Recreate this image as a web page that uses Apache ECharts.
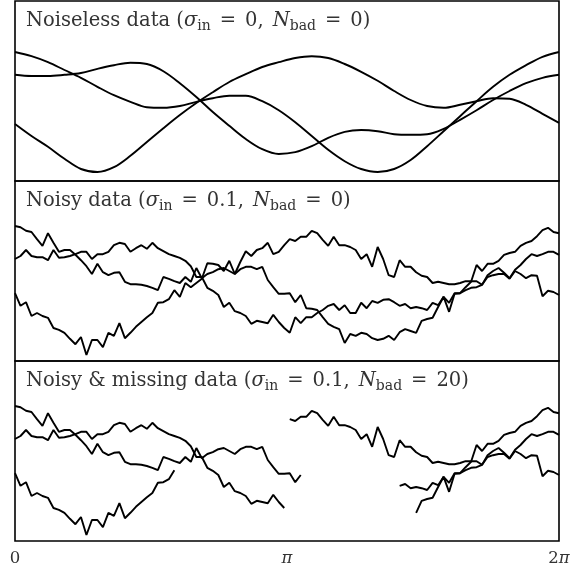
<!DOCTYPE html>
<html><head><meta charset="utf-8">
<script src="https://cdn.jsdelivr.net/npm/echarts@6/dist/echarts.min.js"></script>
<style>html,body{margin:0;padding:0;background:#fff}#c{width:578px;height:575px}</style>
</head><body><div id="c"></div><script>
// Panel captions: [prefix, sigma_in, N_bad]
const panelCaptions = [
  ['Noiseless data (', '0', '0'],
  ['Noisy data (', '0.1', '0'],
  ['Noisy & missing data (', '0.1', '20']
];
const xTickLabels = ['0', 'π', '2π'];
const nSamples = 100;
const noiselessStep = 3; // noiseless curves read every 3rd sample

const noiselessA = [0.95,0.88,0.78,0.65,0.52,0.37,0.23,0.12,0.03,0.02,0.05,0.12,0.18,0.22,0.22,0.13,-0.02,-0.22,-0.45,-0.68,-0.87,-1.00,-1.05,-1.00,-0.85,-0.62,-0.37,-0.12,0.13,0.37,0.57,0.73,0.87,0.95];
const noiselessB = [0.57,0.55,0.55,0.57,0.60,0.67,0.73,0.77,0.75,0.63,0.43,0.20,-0.05,-0.28,-0.50,-0.67,-0.75,-0.72,-0.62,-0.48,-0.38,-0.35,-0.37,-0.42,-0.43,-0.42,-0.33,-0.18,-0.02,0.15,0.30,0.43,0.52,0.57];
const noiselessC = [-0.25,-0.45,-0.63,-0.83,-1.00,-1.05,-0.97,-0.78,-0.55,-0.32,-0.10,0.10,0.28,0.45,0.58,0.70,0.78,0.85,0.88,0.85,0.75,0.62,0.47,0.30,0.15,0.05,0.02,0.07,0.13,0.18,0.17,0.07,-0.08,-0.23];

const noisyA = [1.05,1.03,0.97,0.95,0.83,0.72,0.93,0.77,0.62,0.65,
 0.65,0.57,0.48,0.38,0.25,0.42,0.28,0.23,0.27,0.28,
 0.12,0.08,0.08,0.07,0.05,0.02,-0.02,0.20,0.17,0.13,
 0.10,0.20,0.12,0.35,0.18,0.25,0.28,0.33,0.35,0.30,
 0.25,0.33,0.37,0.37,0.33,0.37,0.15,0.03,-0.08,-0.08,
 -0.07,-0.22,-0.10,-0.32,-0.33,-0.35,-0.47,-0.58,-0.63,-0.67,
 -0.90,-0.75,-0.78,-0.73,-0.75,-0.82,-0.85,-0.83,-0.78,-0.85,
 -0.72,-0.67,-0.70,-0.73,-0.53,-0.50,-0.48,-0.30,-0.13,-0.38,
 -0.08,-0.07,0.03,0.12,0.40,0.30,0.42,0.42,0.47,0.57,
 0.60,0.62,0.72,0.77,0.80,0.88,0.98,1.02,0.95,0.93];
const noisyB = [0.50,0.55,0.65,0.55,0.53,0.53,0.48,0.65,0.52,0.53,
 0.55,0.58,0.62,0.62,0.50,0.58,0.58,0.62,0.73,0.77,
 0.75,0.62,0.68,0.73,0.67,0.77,0.68,0.63,0.58,0.55,
 0.52,0.47,0.38,0.20,0.20,0.02,-0.03,-0.10,-0.30,-0.23,
 -0.37,-0.40,-0.45,-0.58,-0.53,-0.55,-0.57,-0.43,-0.55,-0.65,
 -0.73,-0.47,-0.57,-0.47,-0.47,-0.40,-0.35,-0.28,-0.25,-0.35,
 -0.27,-0.40,-0.40,-0.23,-0.32,-0.20,-0.23,-0.18,-0.17,-0.22,
 -0.28,-0.25,-0.32,-0.30,-0.32,-0.35,-0.23,-0.27,-0.13,-0.23,
 -0.07,-0.07,-0.02,0.02,0.03,0.07,0.23,0.30,0.35,0.27,
 0.18,0.32,0.40,0.50,0.58,0.55,0.58,0.62,0.62,0.57];
const noisyC = [-0.07,-0.28,-0.22,-0.45,-0.40,-0.45,-0.48,-0.65,-0.68,-0.73,
 -0.83,-0.92,-0.80,-1.10,-0.85,-0.85,-0.97,-0.73,-0.78,-0.57,
 -0.82,-0.73,-0.63,-0.55,-0.47,-0.40,-0.23,-0.22,-0.17,-0.02,
 -0.13,0.10,0.03,0.10,0.17,0.43,0.42,0.40,0.30,0.47,
 0.25,0.45,0.63,0.55,0.65,0.68,0.77,0.58,0.62,0.73,
 0.83,0.80,0.87,0.87,0.97,0.93,0.82,0.72,0.87,0.73,
 0.73,0.70,0.65,0.50,0.58,0.37,0.70,0.50,0.23,0.20,
 0.48,0.37,0.37,0.28,0.22,0.20,0.10,0.12,0.10,0.08,
 0.08,0.10,0.13,0.13,0.13,0.07,0.20,0.23,0.25,0.25,
 0.17,0.30,0.25,0.18,0.23,0.22,-0.12,-0.03,-0.05,-0.10];

// first missing sample index for curves A, B, C in the bottom panel
const missingStart = [53, 50, 30];
const missingCount = 20;

const TWO_PI = 2 * Math.PI;
const xAt = i => i * TWO_PI / (nSamples - 1);

const panelTop = [1, 181, 361];
const panelH = 180;
const serif = "'DejaVu Serif', 'Liberation Serif', serif";
const txtColor = '#333';

function caption(c) {
  return '{t|' + c[0] + '}{i|σ}{s|in}{e|=}{t|' + c[1] + ',}{n|N}{s|bad}{e|=}{t|' + c[2] + ')}';
}
const base = { fontFamily: serif, fontSize: 19.5, fontWeight: 'normal', color: txtColor, lineHeight: 24, verticalAlign: 'middle' };
const capRich = {
  t: Object.assign({}, base),
  i: Object.assign({}, base, { fontStyle: 'italic' }),
  n: Object.assign({}, base, { fontStyle: 'italic', padding: [0, 0, 0, 9] }),
  e: Object.assign({}, base, { padding: [0, 9, 0, 9] }),
  s: { fontFamily: serif, fontSize: 14, fontWeight: 'normal', color: txtColor, lineHeight: 13, verticalAlign: 'bottom' }
};

const grids = [], xAxes = [], yAxes = [], titles = [];
for (let p = 0; p < 3; p++) {
  grids.push({ left: 15, width: 544, top: panelTop[p], height: panelH, show: true,
    borderColor: '#000', borderWidth: 1.6, backgroundColor: 'transparent' });
  xAxes.push({ gridIndex: p, type: 'value', min: 0, max: TWO_PI, interval: Math.PI,
    show: p === 2,
    axisLine: { show: false }, axisTick: { show: false }, splitLine: { show: false },
    axisLabel: { show: p === 2, margin: 9, showMinLabel: true, showMaxLabel: true,
      formatter: v => {
        const s = xTickLabels[Math.round(v / Math.PI)];
        return s.replace(/([0-9]+)/, '{n|$1}').replace('π', '{p|π}');
      },
      rich: {
        n: { fontFamily: serif, fontSize: 16.5, color: txtColor },
        p: { fontFamily: serif, fontSize: 16.5, fontStyle: 'italic', color: txtColor }
      }
    } });
  yAxes.push({ gridIndex: p, type: 'value', min: -1.2, max: 1.8, show: false, splitLine: { show: false } });
  titles.push({ text: caption(panelCaptions[p]), left: 26, top: panelTop[p] + 8, padding: 0,
    textStyle: { fontWeight: 'normal', rich: capRich } });
}

const line = (p, data, smooth) => ({
  type: 'line', xAxisIndex: p, yAxisIndex: p, data, symbol: 'none', smooth: smooth,
  connectNulls: false, silent: true,
  lineStyle: { color: '#000', width: 1.9 }, itemStyle: { color: '#000' }
});

const series = [];
[noiselessA, noiselessB, noiselessC].forEach(arr => {
  series.push(line(0, arr.map((v, k) => [xAt(k * noiselessStep), v]), 0.35));
});
const noisy = [noisyA, noisyB, noisyC];
noisy.forEach(arr => series.push(line(1, arr.map((v, i) => [xAt(i), v]), false)));
noisy.forEach((arr, c) => {
  series.push(line(2, arr.map((v, i) =>
    (i >= missingStart[c] && i < missingStart[c] + missingCount) ? [xAt(i), null] : [xAt(i), v]), false));
});

const chart = echarts.init(document.getElementById('c'), null, { renderer: 'canvas' });
chart.setOption({
  animation: false,
  backgroundColor: '#fff',
  title: titles,
  grid: grids,
  xAxis: xAxes,
  yAxis: yAxes,
  series
});
</script></body></html>
